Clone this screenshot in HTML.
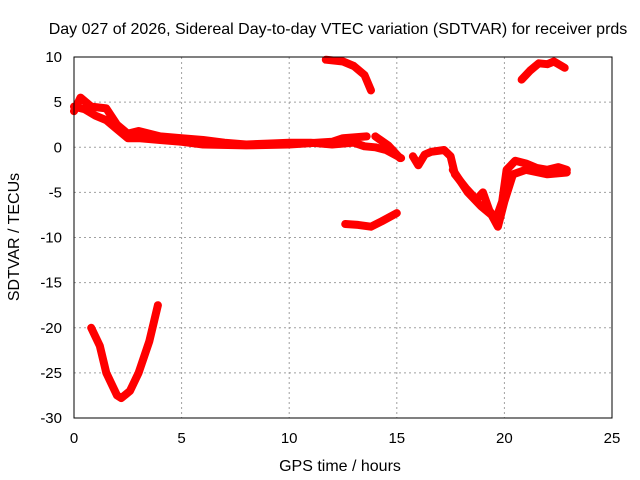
<!DOCTYPE html>
<html><head><meta charset="utf-8"><style>
body{margin:0;background:#fff}
svg{display:block;font-family:"Liberation Sans",sans-serif;font-size:15px}
</style></head><body>
<svg id="chart" width="640" height="480">
<text x="338" y="34" text-anchor="middle" font-size="16">Day 027 of 2026, Sidereal Day-to-day VTEC variation (SDTVAR) for receiver prds</text>
<text x="340" y="471" text-anchor="middle" font-size="16">GPS time / hours</text>
<text transform="translate(19,237) rotate(-90)" text-anchor="middle" font-size="16">SDTVAR / TECUs</text>
<g id="grid"></g><g id="ticks"></g><g id="series"></g>
<rect x="74" y="57" width="538" height="361" fill="none" stroke="#000" stroke-width="1"/>
</svg>
<script>
const xTicks=[0,5,10,15,20,25];
const yTicks=[10,5,0,-5,-10,-15,-20,-25,-30];
const segTimes=[
 [0,0.3,0.8,1.5,2,2.5,3,4,5,6,7,8,9,10,11,12,13,13.5,14,14.5,15.2],
 [0,0.5,1,1.5,2,2.5,3,4,5,6,8,10,12,12.5,13.6],
 [14.0,14.6,15.15],
 [11.7,12.5,13,13.5,13.8],
 [12.6,13.2,13.8,14.3,15],
 [0.8,1.2,1.5,2,2.2,2.6,3,3.5,3.9],
 [15.75,16,16.3,16.6,17.2,17.5,17.7,18.2,18.7,19,19.3,19.6,19.9,20.1,20.5,21,21.5,22,22.5,22.9],
 [17.6,18.3,18.9,19.4,19.7,20,20.4,21,22,22.9],
 [20.8,21.2,21.6,22,22.3,22.8]
];
const segValues=[
 [4,5.5,4.5,4.3,2.5,1.5,1.8,1.2,1,0.8,0.5,0.3,0.4,0.5,0.5,0.3,0.5,0.1,0,-0.3,-1.2],
 [4.5,4.2,3.5,3,2,1,1,0.8,0.6,0.3,0.2,0.3,0.6,1,1.2],
 [1.2,0.2,-1.2],
 [9.7,9.5,9,8,6.3],
 [-8.5,-8.6,-8.8,-8.2,-7.3],
 [-20,-22,-25,-27.5,-27.8,-27,-25,-21.5,-17.5],
 [-1,-2,-0.8,-0.5,-0.3,-1,-3,-4.5,-5.8,-5,-7,-8,-6,-2.5,-1.5,-1.8,-2.3,-2.5,-2.2,-2.5],
 [-2.5,-5,-6.5,-7.5,-8.8,-6,-3,-2.5,-3,-2.8],
 [7.5,8.5,9.3,9.2,9.5,8.8]
];
const sx=t=>74+t*(538/25);
const sy=v=>57+(10-v)*(361/40);
const NS="http://www.w3.org/2000/svg";
const grid=document.getElementById('grid'),ticks=document.getElementById('ticks'),ser=document.getElementById('series');
function mk(tag,a,p){const e=document.createElementNS(NS,tag);for(const k in a)e.setAttribute(k,a[k]);p.appendChild(e);return e;}
xTicks.forEach(t=>{
 const x=sx(t);
 if(t>0&&t<25){const l=mk('line',{x1:x,y1:57,x2:x,y2:418,stroke:'#a0a0a0','stroke-dasharray':'2,3'},grid);
 
 }
 const tk=mk('text',{x:x,y:443,'text-anchor':'middle'},ticks);tk.textContent=t;
 
 
});
yTicks.forEach(v=>{
 const y=sy(v);
 if(v<10&&v>-30){const l=mk('line',{x1:74,y1:y,x2:612,y2:y,stroke:'#a0a0a0','stroke-dasharray':'2,3'},grid);
 
 }
 const tk=mk('text',{x:62,y:y+5,'text-anchor':'end'},ticks);tk.textContent=v;
 
 
});
segTimes.forEach((ts,i)=>{
 const pts=ts.map((t,j)=>sx(t).toFixed(1)+','+sy(segValues[i][j]).toFixed(1)).join(' ');
 const p=mk('polyline',{points:pts,fill:'none',stroke:'#ff0000','stroke-width':8,'stroke-linejoin':'round','stroke-linecap':'round'},ser);
 
 
});
</script>
</body></html>
